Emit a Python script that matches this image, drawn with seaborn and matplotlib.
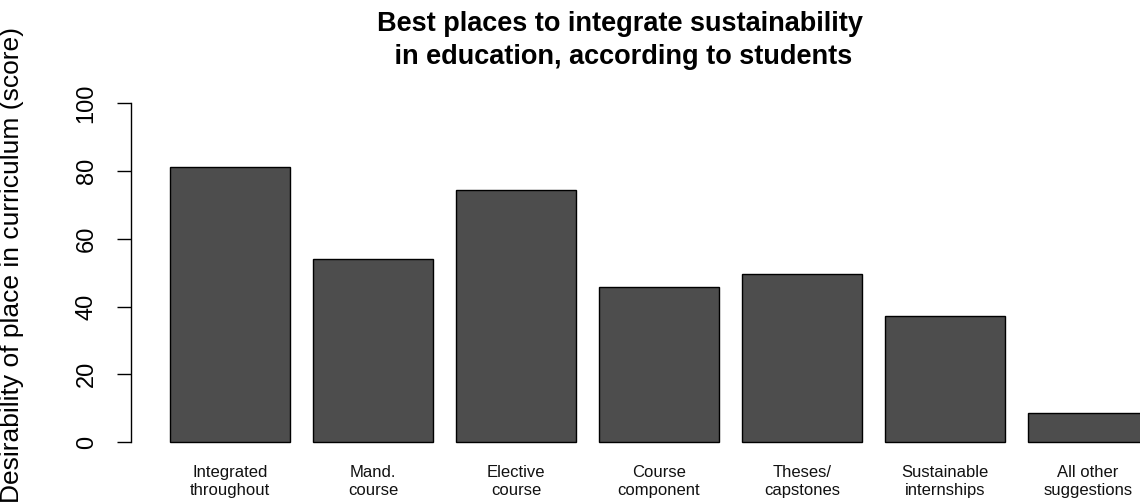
import matplotlib
matplotlib.use("Agg")
import matplotlib.pyplot as plt
import seaborn as sns
import pandas as pd

# values
places = ["Integrated\nthroughout", "Mand.\ncourse", "Elective\ncourse",
          "Course\ncomponent", "Theses/\ncapstones", "Sustainable\ninternships",
          "All other\nsuggestions"]
scores = [81.3, 53.9, 74.5, 45.7, 49.6, 37.2, 8.7]
y_ticks = [0, 20, 40, 60, 80, 100]

df = pd.DataFrame({"place": places, "score": scores})

sns.set_style("white")
plt.rcParams["font.family"] = ["Liberation Sans", "DejaVu Sans"]
plt.rcParams["text.color"] = "black"

W, H = 1140, 504
fig = plt.figure(figsize=(W / 100, H / 100), dpi=100)

# axes box in pixel terms (from the top-left of the image)
left_px, right_px, top_px, bottom_px = 131, 1140, 90, 450
ax = fig.add_axes([left_px / W, (H - bottom_px) / H,
                   (right_px - left_px) / W, (bottom_px - top_px) / H])

sns.barplot(data=df, x="place", y="score", color="#4d4d4d", width=0.84,
            edgecolor="black", linewidth=1.0, saturation=1, ax=ax)

# scale: 143 px per bar slot, first bar centre at x=230 px; zero at y=442 px
px_per_unit_x = 143.0
x0 = -(230 - left_px) / px_per_unit_x
ax.set_xlim(x0, x0 + (right_px - left_px) / px_per_unit_x)
px_per_unit_y = 3.387
ax.set_ylim(-(bottom_px - 442) / px_per_unit_y, (442 - top_px) / px_per_unit_y)

for s in ["top", "right", "bottom"]:
    ax.spines[s].set_visible(False)
ax.spines["left"].set_bounds(0, 100)
ax.spines["left"].set_color("black")
ax.spines["left"].set_linewidth(1.0)

ax.set_yticks(y_ticks)
ax.set_yticklabels([str(t) for t in y_ticks], rotation=90, va="center",
                   fontsize=17)
ax.tick_params(axis="y", direction="out", length=10, width=1.0, pad=14,
               colors="black", labelcolor="black", left=True)
ax.tick_params(axis="x", length=0, pad=11, labelsize=12, labelcolor="#111111")
for lab in ax.get_xticklabels():
    lab.set_linespacing(1.2)

ax.set_xlabel("")
ax.set_ylabel("Desirability of place in curriculum (score)", fontsize=19,
              color="black")
ax.yaxis.set_label_coords((24 - left_px) / (right_px - left_px),
                          (bottom_px - 265) / (bottom_px - top_px))

fig.text(620 / W, 1 - 11 / H,
         "Best places to integrate sustainability\n in education, according to students",
         ha="center", va="top", fontsize=19.5, fontweight="bold", linespacing=1.35,
         color="black")

fig.savefig("out.png", dpi=100)
